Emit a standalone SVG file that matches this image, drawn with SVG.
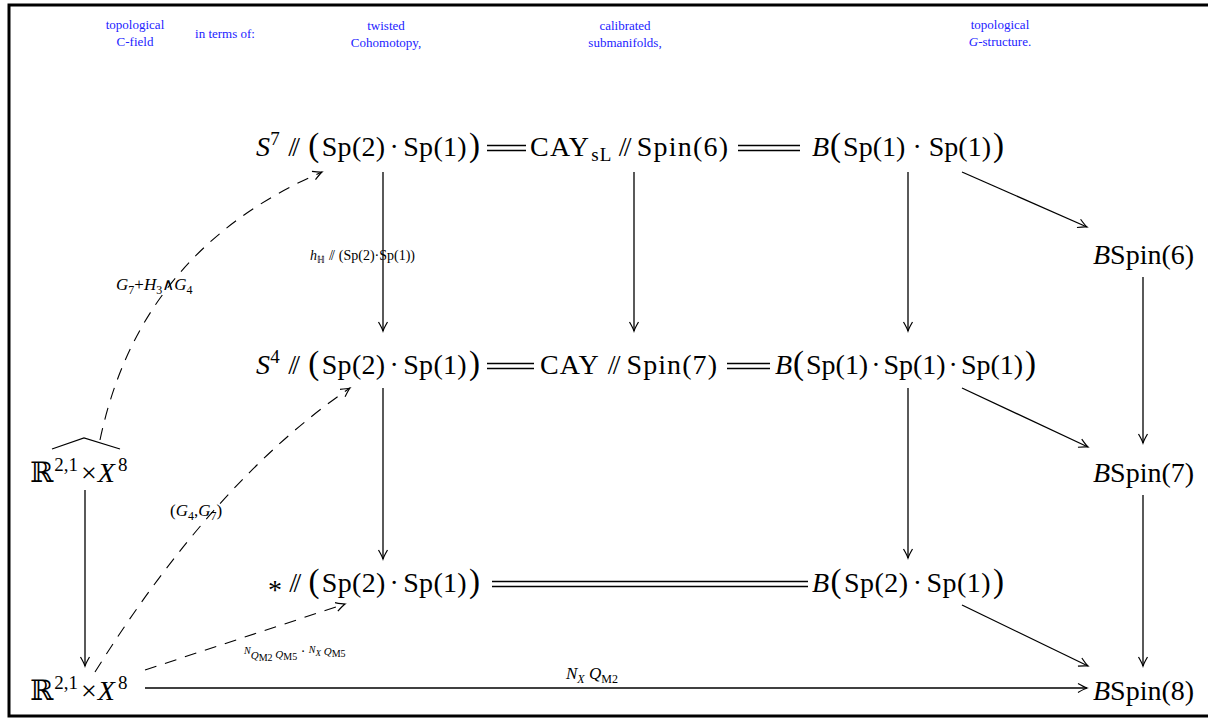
<svg xmlns="http://www.w3.org/2000/svg" width="1208" height="721" viewBox="0 0 1208 721">
<defs>
<marker id="ah" markerWidth="14" markerHeight="12" refX="0" refY="0" viewBox="-11 -6 13 12" orient="auto" markerUnits="userSpaceOnUse">
<path d="M-9,-4.5 Q-3,-1 0,0 Q-3,1 -9,4.5" fill="none" stroke="#000" stroke-width="1.2"/>
</marker>
<style>
.nd{font-family:"Liberation Serif","Times New Roman",serif;font-size:28px;fill:#000}
.it{font-style:italic}
.sup{font-size:19px}
.bp{font-size:33px}
.ss{letter-spacing:-4px}
.lb{font-family:"Liberation Serif","Times New Roman",serif;font-size:13px;fill:#2222ff;text-anchor:middle}
.el{font-family:"Liberation Serif","Times New Roman",serif;font-size:17px;fill:#000}
.sm{font-family:"Liberation Serif","Times New Roman",serif;font-size:14px;fill:#000}
.a{fill:none;stroke:#000;stroke-width:1.3;marker-end:url(#ah)}
.d{fill:none;stroke:#000;stroke-width:1.1;stroke-dasharray:12 9;marker-end:url(#ah)}
.eq{fill:none;stroke:#000;stroke-width:1.6}
</style>
</defs>
<rect x="9" y="5" width="1210" height="711" fill="#fff" stroke="#000" stroke-width="3"/>

<g id="header">
<text class="lb" x="135" y="29">topological</text>
<text class="lb" x="135" y="46">C-field</text>
<text class="lb" x="225" y="38">in terms of:</text>
<text class="lb" x="386" y="30">twisted</text>
<text class="lb" x="386" y="47">Cohomotopy,</text>
<text class="lb" x="625" y="30">calibrated</text>
<text class="lb" x="625" y="47">submanifolds,</text>
<text class="lb" x="1000" y="29">topological</text>
<text class="lb" x="1000" y="46"><tspan font-style="italic">G</tspan>-structure.</text>
</g>

<g id="connectors">
<path class="eq" d="M487,145.5H526M487,150.5H526"/>
<path class="eq" d="M738,145.5H800M738,150.5H800"/>
<path class="eq" d="M487,363.5H534M487,368.5H534"/>
<path class="eq" d="M727,363.5H770M727,368.5H770"/>
<path class="eq" d="M492,581.5H808M492,586.5H808" stroke-width="2"/>
<path class="a" d="M383,172V331"/>
<path class="a" d="M383,388V559"/>
<path class="a" d="M634,172V331" stroke-width="2"/>
<path class="a" d="M908,172V331"/>
<path class="a" d="M908,388V558"/>
<path class="a" d="M1143,277V443"/>
<path class="a" d="M1143,495V666"/>
<path class="a" d="M85,490V666"/>
<path class="a" d="M962,172L1087,227"/>
<path class="a" d="M962,388L1088,447"/>
<path class="a" d="M962,605L1088,666"/>
<path class="a" d="M145,688H1087"/>
<path class="d" d="M100,440Q140,250 322,172"/>
<path class="d" d="M95,672Q215,480 350,388"/>
<path class="d" d="M145,670L345,604"/>
<text class="sm" x="310" y="260"><tspan class="it">h</tspan><tspan font-size="10" dy="3">ℍ</tspan><tspan dy="-3" dx="4" letter-spacing="-2">//</tspan><tspan dx="6">(Sp(2)·Sp(1))</tspan></text>
<text class="el" x="116" y="290"><tspan class="it">G</tspan><tspan font-size="12" dy="4">7</tspan><tspan dy="-4">+</tspan><tspan class="it">H</tspan><tspan font-size="12" dy="4">3</tspan><tspan dy="-4">∧</tspan><tspan class="it">G</tspan><tspan font-size="12" dy="4">4</tspan></text>
<text class="el" x="170" y="516">(<tspan class="it">G</tspan><tspan font-size="12" dy="4">4</tspan><tspan dy="-4">,</tspan><tspan class="it">G</tspan><tspan font-size="12" dy="4">7</tspan><tspan dy="-4">)</tspan></text>
<text class="sm" x="244" y="660"><tspan class="it" font-size="10" dy="-6">N</tspan><tspan class="it" font-size="11" dy="5">Q</tspan><tspan font-size="10" dy="2">M2</tspan><tspan class="it" font-size="11" dy="-3"> Q</tspan><tspan font-size="10" dy="2">M5</tspan><tspan dy="-4"> · </tspan><tspan class="it" font-size="10" dy="-3">N</tspan><tspan class="it" font-size="9" dy="3">X</tspan><tspan class="it" font-size="11" dy="-1"> Q</tspan><tspan font-size="10" dy="2">M5</tspan></text>
<text class="el" x="566" y="679"><tspan class="it">N</tspan><tspan class="it" font-size="12" dy="4">X</tspan><tspan class="it" dy="-4"> Q</tspan><tspan font-size="12" dy="4">M2</tspan></text>
</g>

<g id="n-s7">
<text class="nd" x="256" y="156" style="font-family:'Liberation Serif',serif" textLength="224" lengthAdjust="spacing"><tspan class="it">S</tspan><tspan class="sup" dy="-11">7</tspan><tspan class="ss" dy="11" dx="8">//</tspan><tspan class="bp" dx="12">(</tspan><tspan dx="2">Sp(2)</tspan><tspan dx="4">·</tspan><tspan dx="4">Sp(1)</tspan><tspan class="bp" dx="2">)</tspan></text>
</g>
<g id="n-caysl">
<text class="nd" x="530" y="156" style="font-family:'Liberation Serif',serif" textLength="198" lengthAdjust="spacing">CAY<tspan font-size="19" dy="5" dx="1">sL</tspan><tspan class="ss" dy="-5" dx="6">//</tspan><tspan dx="8">Spin(6)</tspan></text>
</g>
<g id="n-bsp11">
<text class="nd" x="812" y="156" style="font-family:'Liberation Serif',serif" textLength="192" lengthAdjust="spacing"><tspan class="it">B</tspan><tspan class="bp" dx="1">(</tspan><tspan dx="2">Sp(1) · Sp(1)</tspan><tspan class="bp" dx="2">)</tspan></text>
</g>
<g id="n-bspin6">
<text class="nd" x="1093" y="264" style="font-family:'Liberation Serif',serif"><tspan class="it">B</tspan>Spin(6)</text>
</g>
<g id="n-s4">
<text class="nd" x="256" y="374" style="font-family:'Liberation Serif',serif" textLength="224" lengthAdjust="spacing"><tspan class="it">S</tspan><tspan class="sup" dy="-11">4</tspan><tspan class="ss" dy="11" dx="8">//</tspan><tspan class="bp" dx="12">(</tspan><tspan dx="2">Sp(2)</tspan><tspan dx="4">·</tspan><tspan dx="4">Sp(1)</tspan><tspan class="bp" dx="2">)</tspan></text>
</g>
<g id="n-cay">
<text class="nd" x="540" y="374" style="font-family:'Liberation Serif',serif" textLength="177" lengthAdjust="spacing">CAY<tspan class="ss" dx="8">//</tspan><tspan dx="9">Spin(7)</tspan></text>
</g>
<g id="n-bsp111">
<text class="nd" x="775" y="374" style="font-family:'Liberation Serif',serif" textLength="261" lengthAdjust="spacing"><tspan class="it">B</tspan><tspan class="bp" dx="1">(</tspan><tspan dx="2">Sp(1)</tspan><tspan dx="3">·</tspan><tspan dx="3">Sp(1)</tspan><tspan dx="3">·</tspan><tspan dx="3">Sp(1)</tspan><tspan class="bp" dx="2">)</tspan></text>
</g>
<g id="n-bspin7">
<text class="nd" x="1093" y="482" style="font-family:'Liberation Serif',serif"><tspan class="it">B</tspan>Spin(7)</text>
</g>
<g id="n-rhat">
<text class="nd" x="30" y="482" style="font-family:'Liberation Serif','DejaVu Serif',serif">ℝ<tspan class="sup" dy="-11" dx="1">2,1</tspan><tspan dy="11" dx="3">×</tspan><tspan class="it" dx="1">X</tspan><tspan class="sup" dy="-11" dx="3">8</tspan></text>
<path d="M52,449 L84,438 L120,449" fill="none" stroke="#000" stroke-width="1.2"/>
</g>
<g id="n-star">
<text class="nd" x="268" y="592" style="font-family:'Liberation Serif',serif" textLength="212" lengthAdjust="spacing"><tspan dy="7">*</tspan><tspan class="ss" dy="-7" dx="7">//</tspan><tspan class="bp" dx="11">(</tspan><tspan dx="2">Sp(2)</tspan><tspan dx="4">·</tspan><tspan dx="4">Sp(1)</tspan><tspan class="bp" dx="2">)</tspan></text>
</g>
<g id="n-bsp21">
<text class="nd" x="812" y="592" style="font-family:'Liberation Serif',serif" textLength="192" lengthAdjust="spacing"><tspan class="it">B</tspan><tspan class="bp" dx="1">(</tspan><tspan dx="2">Sp(2)</tspan><tspan dx="4">·</tspan><tspan dx="4">Sp(1)</tspan><tspan class="bp" dx="2">)</tspan></text>
</g>
<g id="n-bspin8">
<text class="nd" x="1093" y="700" style="font-family:'Liberation Serif',serif"><tspan class="it">B</tspan>Spin(8)</text>
</g>
<g id="n-r">
<text class="nd" x="30" y="700" style="font-family:'Liberation Serif','DejaVu Serif',serif">ℝ<tspan class="sup" dy="-11" dx="1">2,1</tspan><tspan dy="11" dx="3">×</tspan><tspan class="it" dx="1">X</tspan><tspan class="sup" dy="-11" dx="3">8</tspan></text>
</g>
</svg>
